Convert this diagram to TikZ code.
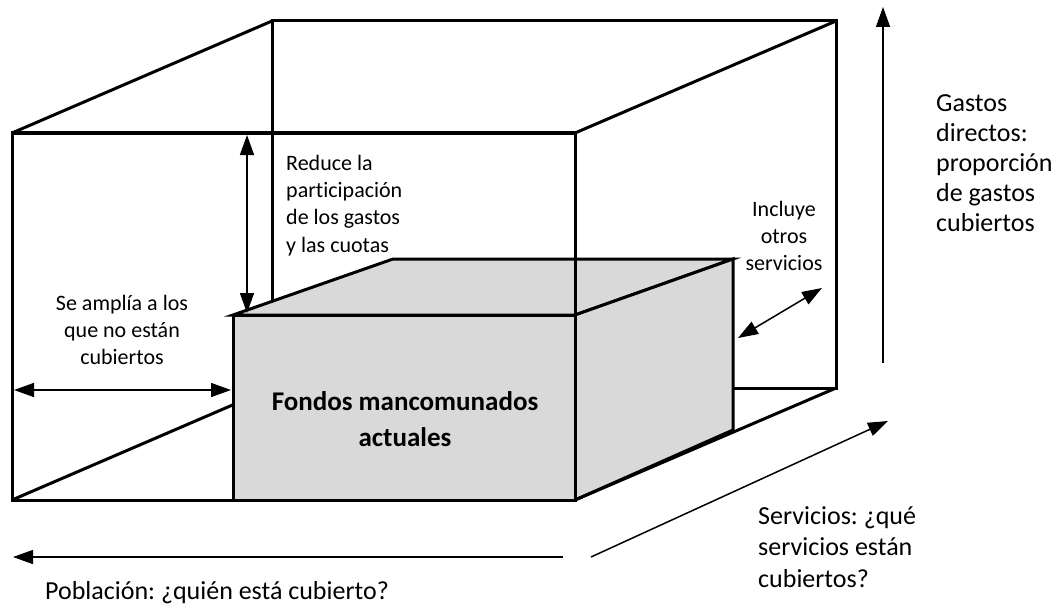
\documentclass[tikz,border=0pt]{standalone}
\usepackage{fontspec}
\setmainfont{Carlito}[Ligatures=NoCommon]
\usetikzlibrary{arrows.meta}
\definecolor{boxgray}{RGB}{217,217,217}
\frenchspacing
\begin{document}
\begin{tikzpicture}[x=1pt,y=-1pt,
  edge/.style={line width=3pt, line join=miter},
  arr/.style={line width=1.5pt, -{Triangle[length=20pt,width=14pt]}},
  darr/.style={line width=1.5pt, {Triangle[length=20pt,width=14pt]}-{Triangle[length=20pt,width=14pt]}},
  big/.style={inner sep=0pt, align=left, font=\fontsize{26}{30}\selectfont},
  small/.style={inner sep=0pt, font=\fontsize{22}{27.2}\selectfont}]
\useasboundingbox (0,0) rectangle (1062,607);
% corners of the large box
\coordinate (F1) at (12,133);
\coordinate (F2) at (575,133);
\coordinate (F3) at (575,500);
\coordinate (F4) at (12,500);
\coordinate (B1) at (272,21);
\coordinate (B2) at (836,21);
\coordinate (B3) at (836,388);
\coordinate (B4) at (272,388);
% corners of the small box
\coordinate (s1) at (233,315);
\coordinate (s2) at (575,315);
\coordinate (s3) at (575,500);
\coordinate (s4) at (233,500);
\coordinate (t1) at (393,259);
\coordinate (t2) at (733,259);
\coordinate (t3) at (733,430);
% back of large box
\draw[edge] (B4) -- (B1) -- (B2) -- (B3) -- cycle;
\draw[edge] (F4) -- (B4);
% small box
\filldraw[edge, fill=boxgray] (s1) -- (t1) -- (t2) -- (s2) -- cycle;
\filldraw[edge, fill=boxgray] (s2) -- (t2) -- (t3) -- (s3) -- cycle;
\filldraw[edge, fill=boxgray] (s1) rectangle (s3);
% front of large box
\draw[edge] (F1) rectangle (F3);
\draw[edge] (F1) -- (B1);
\draw[edge] (F2) -- (B2);
\draw[edge] (F3) -- (B3);
% arrows
\coordinate (v1) at (247,135);
\coordinate (v2) at (247,313);
\draw[darr] (v1) -- (v2);
\coordinate (h1) at (14,390);
\coordinate (h2) at (231,390);
\draw[darr] (h1) -- (h2);
\coordinate (i1) at (738,338);
\coordinate (i2) at (822,288);
\draw[darr] (i1) -- (i2);
\coordinate (g1) at (883,363);
\coordinate (g2) at (883,7);
\draw[arr] (g1) -- (g2);
\coordinate (p1) at (563,557);
\coordinate (p2) at (13,557);
\draw[arr] (p1) -- (p2);
\coordinate (q1) at (591,557);
\coordinate (q2) at (888,421);
\draw[arr] (q1) -- (q2);
% labels
\node[small, align=left, anchor=north west] (reduce) at (286,155)
  {Reduce la\\participación\\de los gastos\\y las cuotas};
\node[small, align=center, anchor=north] (amplia) at (122,295)
  {Se amplía a los\\que no están\\cubiertos};
\node[small, align=center, anchor=north] (incluye) at (784,201)
  {Incluye\\otros\\servicios};
\node[inner sep=0pt, align=center, anchor=north, font=\bfseries\fontsize{27}{36}\selectfont] (fondos) at (405,391)
  {Fondos mancomunados\\actuales};
\node[big, anchor=north west] (gastos) at (936,94)
  {Gastos\\directos:\\proporción\\de gastos\\cubiertos};
\node[big, anchor=north west, font=\fontsize{26}{31.5}\selectfont] (serv) at (758,506)
  {Servicios: ¿qué\\servicios están\\cubiertos?};
\node[big, anchor=north west] (pob) at (45,581)
  {Población: ¿quién está cubierto?};
\end{tikzpicture}
\end{document}
